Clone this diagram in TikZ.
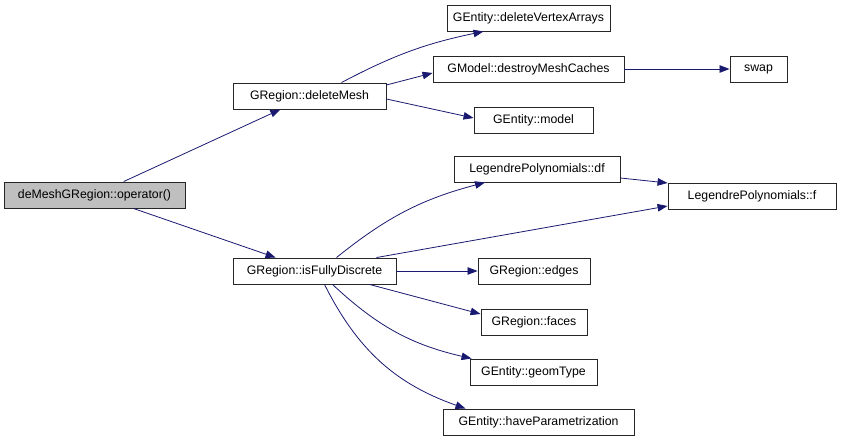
\documentclass[tikz,border=0pt]{standalone}
\usepackage{fontspec}
\setmainfont{Liberation Sans}
\usepackage{xcolor}
\usetikzlibrary{arrows.meta}
\definecolor{callblue}{HTML}{191970}
\definecolor{rootgray}{HTML}{BFBFBF}

\begin{document}
\begin{tikzpicture}[x=1pt, y=-1pt, font=\fontsize{12.3}{14}\selectfont,
    >={Triangle[length=10pt, width=7.5pt]},
    fn/.style={draw=black!85, line width=0.9pt, minimum height=26pt,
               inner sep=0pt, fill=white},
    call/.style={->, callblue, line width=0.8pt}]
  \useasboundingbox (0,0) rectangle (843,443);
  % callers and callees
  \node[fn, fill=rootgray, minimum width=181pt] (op) at (94.5,195) {deMeshGRegion::operator()};
  \node[fn, minimum width=153pt] (delMesh) at (309.5,96) {GRegion::deleteMesh};
  \node[fn, minimum width=163pt] (delVA) at (528.5,18) {GEntity::deleteVertexArrays};
  \node[fn, minimum width=191pt] (destroy) at (528.5,69) {GModel::destroyMeshCaches};
  \node[fn, minimum width=57pt] (swap) at (758.5,69) {swap};
  \node[fn, minimum width=119pt] (model) at (533.5,120) {GEntity::model};
  \node[fn, minimum width=166pt] (df) at (537,169) {LegendrePolynomials::df};
  \node[fn, minimum width=168pt] (f) at (752,196) {LegendrePolynomials::f};
  \node[fn, minimum width=163pt] (isFD) at (314.5,271) {GRegion::isFullyDiscrete};
  \node[fn, minimum width=112pt] (edges) at (534,271) {GRegion::edges};
  \node[fn, minimum width=106pt] (faces) at (534,322) {GRegion::faces};
  \node[fn, minimum width=127pt] (geom) at (533.5,372) {GEntity::geomType};
  \node[fn, minimum width=191pt] (havePar) at (538.5,422) {GEntity::haveParametrization};
  % calls
  \draw[call] (op) -- (delMesh);
  \draw[call] (op) -- (isFD);
  \draw[call] ([xshift=32pt]delMesh.north) to[bend left=8] ([xshift=-45pt]delVA.south);
  \draw[call] ([yshift=11pt]delMesh.east) -- ([yshift=-4pt]destroy.west);
  \draw[call] ([yshift=-3pt]delMesh.east) -- ([yshift=2pt]model.west);
  \draw[call] (destroy) -- (swap);
  \draw[call] ([xshift=22pt]isFD.north) to[bend left=12] ([xshift=-52pt]df.south);
  \draw[call] ([xshift=62pt]isFD.north) -- ([yshift=-10pt]f.west);
  \draw[call] ([yshift=-9pt]df.east) -- ([yshift=13pt]f.west);
  \draw[call] (isFD) -- (edges);
  \draw[call] ([xshift=55pt]isFD.south) -- ([yshift=8pt]faces.west);
  \draw[call] ([xshift=18pt]isFD.south) to[bend right=15] ([xshift=2pt]geom.north west);
  \draw[call] ([xshift=10pt]isFD.south) to[bend right=22] ([xshift=-73pt]havePar.north);
\end{tikzpicture}
\end{document}
